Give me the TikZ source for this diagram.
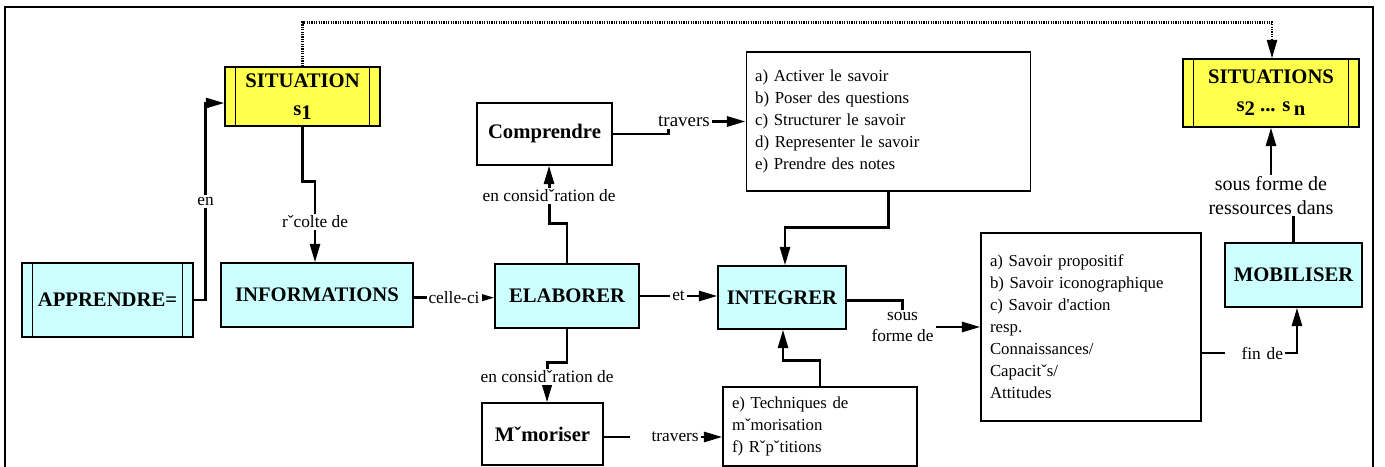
\documentclass[tikz,border=0pt]{standalone}
\usepackage{fontspec}
\setmainfont{Liberation Serif}
\usetikzlibrary{arrows.meta}
\definecolor{conceptcyan}{RGB}{204,255,255}
\definecolor{sityellow}{RGB}{255,255,77}

\begin{document}
\begin{tikzpicture}[x=0.75pt,y=-0.75pt,
box/.style={draw,line width=0.8pt,inner sep=0pt,align=center,font=\bfseries\fontsize{15.5}{21}\selectfont},
concept/.style={box,fill=conceptcyan},
verb/.style={box,fill=white},
situation/.style={box,fill=sityellow},
bars/.style={path picture={\draw[line width=0.8pt] ([xshift=#1]path picture bounding box.north west) -- ([xshift=#1]path picture bounding box.south west) ([xshift=-#1]path picture bounding box.north east) -- ([xshift=-#1]path picture bounding box.south east);}},
bars/.default=7.9pt,
listbox/.style={draw,line width=0.8pt,fill=white,align=left,inner xsep=6.75pt,inner ysep=0pt,font=\fontsize{12.6}{16.5}\selectfont},
lbl/.style={fill=white,inner sep=1.5pt,font=\fontsize{13}{16}\selectfont},
link/.style={line width=2.2pt,-{Triangle[length=14pt,width=7.5pt]}},
hint/.style={link,line width=2pt,dash pattern=on 0.9pt off 0.9pt}]
\useasboundingbox (0,0) rectangle (1385,467);
\draw[line width=1.6pt] (5,480) |- (1373,7) -- (1373,480);
% concepts
\node[situation,bars,minimum width=116.25pt,minimum height=44.25pt] (sit1) at (302.5,96.5) {SITUATION\\s\raisebox{-0.2em}{1}};
\node[situation,bars,minimum width=132pt,minimum height=51pt] (sits) at (1271,93) {SITUATIONS\\s\raisebox{-0.2em}{2} ... s\,\raisebox{-0.2em}{n}};
\node[concept,bars,minimum width=128.25pt,minimum height=55.5pt] (appr) at (107.5,300) {APPRENDRE=};
\node[concept,minimum width=144pt,minimum height=48pt] (info) at (317,295) {INFORMATIONS};
\node[concept,minimum width=108pt,minimum height=48pt] (elab) at (567,296) {ELABORER};
\node[concept,minimum width=96pt,minimum height=47.25pt] (integ) at (782,297.5) {INTEGRER};
\node[concept,minimum width=102.75pt,minimum height=48pt] (mobil) at (1293.5,275) {MOBILISER};
\node[verb,minimum width=101.25pt,minimum height=46.5pt] (compr) at (544.5,134) {Comprendre};
\node[verb,minimum width=90.75pt,minimum height=46.5pt] (memo) at (542.5,434) {Mˇmoriser};
% lists
\node[listbox,text width=200pt,minimum height=104.25pt] (strat) at (888.5,121.5) {a) Activer le savoir\\b) Poser des questions\\c) Structurer le savoir\\d) Representer le savoir\\e) Prendre des notes};
\node[listbox,text width=132pt,minimum height=59.25pt] (techn) at (820,426.5) {e) Techniques de\\mˇmorisation\\f) Rˇpˇtitions};
\node[listbox,text width=151.5pt,minimum height=141pt] (savoir) at (1091,327) {a) Savoir propositif\\b) Savoir iconographique\\c) Savoir d\textquotesingle action\\resp.\\Connaissances/\\Capacitˇs/\\Attitudes};
% links
\draw[hint] (sit1.north) -- ++(0,-44) -| ([xshift=0.75pt]sits.north);
\draw[link] (appr.east) -- ++(12,0) |- node[lbl,pos=0.25]{en} ([yshift=-4.9pt]sit1.west);
\draw[link] (sit1.south) -- ++(0,55) -| node[lbl,pos=0.75]{rˇcolte de} ([xshift=-1.5pt]info.north);
\draw[link] ([yshift=-2pt]info.east) -- node[lbl]{celle-ci} ([yshift=-2pt]info.east -| elab.west);
\draw[link] (elab.east) -- node[lbl]{et} (elab.east -| integ.west);
\draw[link] (elab.north) -- ++(0,-40) -| node[lbl,pos=0.74]{en considˇration de} ([xshift=3.4pt]compr.south);
\draw[link] (elab.south) -- ++(0,34) -| node[lbl,pos=0.68]{en considˇration de} ([xshift=3.4pt]memo.north);
\draw[link] (compr.east) -- ++(56,0) |- node[lbl,pos=0.6,font=\fontsize{14.2}{16}\selectfont]{travers} (strat.west);
\draw[link] ([yshift=-2.25pt]memo.east) -- node[lbl,pos=0.52,text width=50pt,align=right]{travers} ([yshift=-2.25pt]memo.east -| techn.west);
\draw[link] (strat.south) -- ++(0,36) -| ([xshift=2.25pt]integ.north);
\draw[link] (techn.north) -- ++(0,-26) -| ([xshift=0.75pt]integ.south);
\draw[link] ([yshift=-2.5pt]integ.east) -- ++(56,0) |- node[lbl,pos=0.5,align=center]{sous\\forme de} (savoir.west);
\draw[link] ([yshift=-19.5pt]savoir.east) -| node[lbl,pos=0.28,text width=42pt,align=right]{fin de} ([xshift=2.6pt]mobil.south);
\draw[link] (mobil.north) -- ++(0,-47) -| node[lbl,pos=0.5,align=center,font=\fontsize{15}{17.5}\selectfont]{sous forme de\\ressources dans} (sits.south);
\end{tikzpicture}
\end{document}
